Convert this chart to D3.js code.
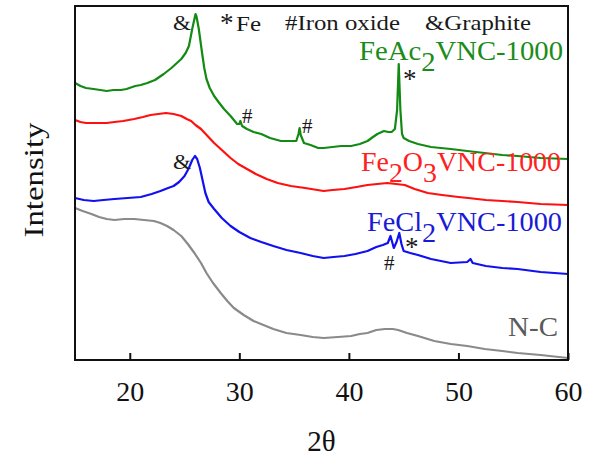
<!DOCTYPE html>
<html>
<head>
<meta charset="utf-8">
<script src="https://cdn.jsdelivr.net/npm/d3@7"></script>
<style>
  html, body { margin: 0; padding: 0; background: #fff; }
  svg { display: block; }
  svg text { font-family: "Liberation Serif", "Times New Roman", Times, serif; }
</style>
</head>
<body>
<svg id="chart" width="591" height="456"></svg>
<script>
// XRD patterns (2θ in degrees, intensity in offset arbitrary units)
const feAc2 = [
  [15.0,277],[15.5,274],[16.0,272],[16.7,271],[17.3,270],[17.9,269],[18.5,270],[19.2,270],
  [19.7,271],[20.5,274],[21.0,275],[21.6,277],[22.3,280],[23.1,286],[23.8,292],[24.3,297],
  [24.7,301],[25.1,307],[25.4,314],[25.7,331],[25.9,341],[26.0,346],[26.1,343],[26.3,331],
  [26.6,307],[26.8,292],[27.0,281],[27.3,272],[27.7,264],[28.1,258],[28.6,251],[29.2,244],
  [29.8,236],[30.0,236],[30.1,239],[30.25,234],[30.7,231],[31.3,228],[32.0,226],[32.8,222],
  [33.8,219],[34.5,219],[35.2,219],[35.4,226],[35.5,232],[35.6,225],[35.9,217],[36.5,215],
  [37.2,212],[37.7,212],[38.5,213],[39.3,214],[40.2,214],[41.0,216],[41.7,219],[42.2,223],
  [42.6,226],[43.2,229],[43.6,228],[43.9,228],[44.2,231],[44.4,250],[44.55,296],[44.7,250],
  [44.85,226],[45.0,222],[45.5,219],[46.3,216],[47.5,213],[49.3,211],[50.8,209],[52.4,207],
  [54.0,205],[55.4,204],[57.5,202],[60.0,201]
];
const fe2O3 = [
  [15.0,240],[15.5,238],[16.0,237],[16.5,237],[17.2,237],[17.9,237],[18.6,238],[19.4,239],
  [20.4,241],[21.2,243],[21.9,245],[22.6,246],[23.3,247],[24.0,246],[24.7,244],[25.2,241],
  [25.6,239],[26.0,235],[26.5,231],[27.1,224],[27.7,217],[28.4,210],[29.2,202],[29.9,196],
  [30.7,191],[31.5,186],[32.5,181],[33.5,177],[34.7,174],[36.0,172],[37.7,169],[38.5,170],
  [39.6,171],[40.7,173],[41.7,175],[42.6,176],[43.5,177],[44.3,176],[45.1,175],[46.0,171],
  [47.2,167],[48.5,165],[50.0,163],[50.9,162],[52.5,160],[54.0,159],[55.4,158],[57.5,156],
  [60.0,155]
];
const feCl2 = [
  [15.0,162],[15.8,160],[16.7,159],[17.6,160],[18.6,161],[19.8,162],[21.0,163],[22.0,166],
  [22.8,169],[23.5,172],[24.0,174],[24.5,178],[25.0,184],[25.4,192],[25.7,200],[25.95,204],
  [26.15,201],[26.4,192],[26.7,177],[26.9,167],[27.2,158],[27.7,151],[28.4,142],[29.2,134],
  [30.0,128],[31.0,122],[32.0,118],[33.1,114],[34.3,110],[35.6,107],[36.7,104],[37.7,102],
  [38.6,103],[39.6,104],[40.6,106],[41.7,109],[42.5,113],[43.1,115],[43.55,117],[43.8,124],
  [44.1,112],[44.35,118],[44.6,127],[44.8,116],[45.0,109],[45.6,107],[46.3,105],[47.5,101],
  [49.3,97],[50.8,98],[51.1,101],[51.3,97],[52.5,94],[54.0,92],[55.4,91],[57.5,88],[60.0,86]
];
const nC = [
  [15.0,152],[15.7,149],[16.5,146],[17.2,143],[17.9,141],[18.6,140],[19.5,141],[20.4,141],
  [21.3,140],[22.2,139],[22.8,137],[23.4,134],[24.0,130],[24.7,124],[25.3,116],[25.9,107],
  [26.5,97],[27.0,87],[27.6,77],[28.3,67],[28.9,59],[29.5,52],[30.4,45],[31.3,39],[32.2,35],
  [33.1,31],[34.3,27],[35.6,25],[36.7,23],[37.7,22],[39.0,23],[40.2,24],[41.0,26],[41.7,27],
  [42.5,30],[43.3,31],[44.0,31],[44.5,30],[45.3,27],[46.3,24],[47.8,19],[49.3,16],[50.8,14],
  [52.4,11],[54.0,9],[55.4,7],[57.5,5],[60.0,2]
];

const xTicks = [20, 30, 40, 50, 60];
const xDomain = [15, 60];
const yDomain = [0, 354];

const svg = d3.select("#chart");
const margin = { left: 75, right: 23, top: 6, bottom: 96 };
const W = 591, H = 456;
const x = d3.scaleLinear().domain(xDomain).range([margin.left, W - margin.right]);
const y = d3.scaleLinear().domain(yDomain).range([H - margin.bottom, margin.top]);

const line = d3.line().x(d => x(d[0])).y(d => y(d[1]));

const curves = [
  { data: feAc2, color: "#138a13" },
  { data: fe2O3, color: "#ff1010" },
  { data: feCl2, color: "#1010f0" },
  { data: nC, color: "#8a8a8a" }
];

// traces
svg.append("g").selectAll("path").data(curves).join("path")
  .attr("d", d => line(d.data))
  .attr("fill", "none")
  .attr("stroke", d => d.color)
  .attr("stroke-width", 2.2)
  .attr("stroke-linejoin", "round");

// frame
svg.append("rect")
  .attr("x", x(xDomain[0])).attr("y", y(yDomain[1]))
  .attr("width", x(xDomain[1]) - x(xDomain[0]))
  .attr("height", y(yDomain[0]) - y(yDomain[1]))
  .attr("fill", "none").attr("stroke", "#111").attr("stroke-width", 2);

// bottom axis with inward ticks
const xAxis = d3.axisBottom(x).tickValues(xTicks).tickSizeInner(-7).tickSizeOuter(0).tickPadding(0);
const gx = svg.append("g").attr("transform", `translate(0,${y(yDomain[0])})`).call(xAxis);
gx.attr("font-family", null);
gx.select(".domain").remove();
gx.selectAll(".tick line").attr("stroke", "#111").attr("stroke-width", 2);
gx.selectAll(".tick text")
  .attr("y", 41).attr("dy", null)
  .attr("font-size", 28).attr("fill", "#111");

// axis titles
svg.append("text").attr("x", (x(xDomain[0]) + x(xDomain[1])) / 2).attr("y", 451)
  .attr("text-anchor", "middle").attr("font-size", 29).attr("fill", "#111").text("2θ");
svg.append("text").attr("transform", "translate(43,180) rotate(-90)")
  .attr("text-anchor", "middle").attr("font-size", 28).attr("fill", "#111")
  .attr("textLength", 115).attr("lengthAdjust", "spacingAndGlyphs").text("Intensity");

// annotations: phase markers
function mark(txt, px, py, size, len) {
  const t = svg.append("text").attr("x", px).attr("y", py).attr("font-size", size).attr("fill", "#1a1a1a").text(txt);
  if (len) t.attr("textLength", len).attr("lengthAdjust", "spacingAndGlyphs");
  return t;
}
mark("&", 173, 30, 22, 18);
mark("*", 220, 32, 27);
mark("Fe", 236, 31, 22, 25);
mark("#Iron oxide", 285, 30, 21, 115);
mark("&Graphite", 425, 30, 21, 106);
mark("*", 403, 88, 27);
mark("#", 242, 123, 21);
mark("#", 302, 133, 21);
mark("&", 173, 169, 22, 18);
mark("#", 384, 270, 21);
mark("*", 405, 256, 27);

// sample labels with lowered subscripts
function label(parts, px, py, color, len) {
  const t = svg.append("text").attr("x", px).attr("y", py).attr("font-size", 27).attr("fill", color)
    .attr("textLength", len).attr("lengthAdjust", "spacingAndGlyphs");
  let shift = 0;
  parts.forEach(p => {
    const s = p[1] ? 11 : 0;
    t.append("tspan").attr("dy", s - shift).text(p[0]);
    shift = s;
  });
}
label([["FeAc"], ["2", true], ["VNC-1000"]], 359, 60, "#1a8c1a", 204);
label([["Fe"], ["2", true], ["O"], ["3", true], ["VNC-1000"]], 361, 171, "#ff2020", 200);
label([["FeCl"], ["2", true], ["VNC-1000"]], 367, 231, "#1a1ad6", 195);
label([["N-C"]], 508, 336, "#5a5a5a", 50);
</script>
</body>
</html>
